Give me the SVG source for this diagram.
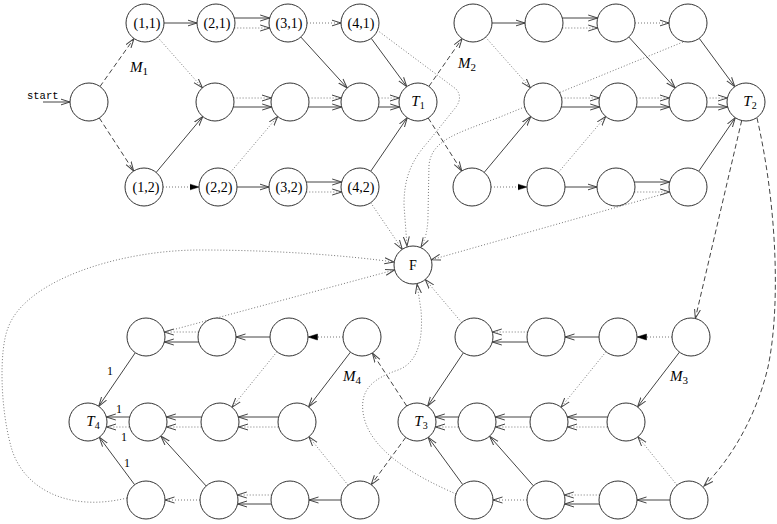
<svg xmlns="http://www.w3.org/2000/svg" width="777" height="524" viewBox="0 0 777 524">
<defs>
<marker id="a" markerWidth="11" markerHeight="8" refX="9.5" refY="4" orient="auto" markerUnits="userSpaceOnUse"><path d="M0,1 L9.5,4 L0,7" fill="none" stroke="#444" stroke-width="1"/></marker>
<marker id="f" markerWidth="11" markerHeight="8" refX="9.5" refY="4" orient="auto" markerUnits="userSpaceOnUse"><path d="M0,1 L9.5,4 L0,7 Z" fill="#000" stroke="#000" stroke-width="0.5"/></marker>
</defs>
<style>
.n circle{fill:#fff;stroke:#333;stroke-width:1}
.n text{font-family:"Liberation Serif","DejaVu Serif",serif;font-size:14px;fill:#000;text-anchor:middle}
.n text.t{font-style:italic;font-size:15px}
.lb{font-family:"Liberation Serif","DejaVu Serif",serif;font-size:12px;fill:#000}
.st{font-family:"Liberation Mono","DejaVu Sans Mono",monospace;font-size:10.5px;fill:#000}
.m{font-family:"Liberation Serif","DejaVu Serif",serif;font-size:15px;font-style:italic;fill:#000}
.s{stroke:#444;stroke-width:1;fill:none;marker-end:url(#a)}
.d{stroke:#777;stroke-width:1;stroke-dasharray:1 2;fill:none;marker-end:url(#a)}
.df{stroke:#777;stroke-width:1;stroke-dasharray:1 2;fill:none;marker-end:url(#f)}
.k{stroke:#444;stroke-width:1;stroke-dasharray:5 3;fill:none;marker-end:url(#a)}
</style>
<g id="connectors">
<!-- M1 -->
<line class="s" x1="43" y1="102" x2="70" y2="102"/>
<line class="k" x1="100" y1="86.5" x2="134" y2="38.5"/>
<line class="k" x1="99.3" y1="118" x2="133.7" y2="171"/>
<line class="s" x1="164" y1="23" x2="197" y2="23"/>
<line class="d" x1="157.6" y1="37.2" x2="202.4" y2="87.8"/>
<line class="s" x1="156.2" y1="172.4" x2="202.8" y2="116.6"/>
<line class="df" x1="163" y1="187" x2="199" y2="187"/>
<line class="s" x1="234.3" y1="18" x2="269.7" y2="18"/>
<line class="d" x1="234.3" y1="28" x2="269.7" y2="28"/>
<line class="d" x1="307" y1="23" x2="341" y2="23"/>
<line class="s" x1="300.8" y1="37" x2="347.2" y2="88"/>
<line class="s" x1="371.2" y1="38.3" x2="406.8" y2="86.7"/>
<line class="d" x1="233.6" y1="98" x2="271.4" y2="98"/>
<line class="s" x1="233.3" y1="107" x2="271.7" y2="107"/>
<line class="d" x1="308.6" y1="98" x2="341.4" y2="98"/>
<line class="s" x1="308.3" y1="107" x2="341.7" y2="107"/>
<line class="d" x1="378.6" y1="98" x2="399.4" y2="98"/>
<line class="s" x1="378.3" y1="107" x2="399.7" y2="107"/>
<line class="d" x1="230.3" y1="172.5" x2="277.7" y2="116.5"/>
<line class="s" x1="237" y1="187" x2="269" y2="187"/>
<line class="s" x1="306.3" y1="182" x2="341.7" y2="182"/>
<line class="d" x1="306.3" y1="192" x2="341.7" y2="192"/>
<line class="s" x1="370.7" y1="171.3" x2="407.3" y2="117.7"/>
<line class="d" x1="370.7" y1="202.7" x2="402.3" y2="249.3"/>
<path class="d" d="M377,30 L456,89 Q463,97 456,107 L428,142 C410,162 404,180 404,205 L407,246"/>
<line class="k" x1="428.9" y1="86.4" x2="462.1" y2="38.6"/>
<line class="k" x1="428.2" y1="118" x2="461.8" y2="171"/>
<!-- M2 -->
<line class="s" x1="492" y1="23" x2="525" y2="23"/>
<line class="d" x1="485.6" y1="37.2" x2="530.4" y2="87.8"/>
<line class="s" x1="484.2" y1="172.4" x2="530.8" y2="116.6"/>
<line class="df" x1="491" y1="187" x2="527" y2="187"/>
<line class="s" x1="562.3" y1="18" x2="597.7" y2="18"/>
<line class="d" x1="562.3" y1="28" x2="597.7" y2="28"/>
<line class="d" x1="635" y1="23" x2="669" y2="23"/>
<line class="s" x1="628.8" y1="37" x2="675.2" y2="88"/>
<line class="s" x1="699.2" y1="38.3" x2="734.8" y2="86.7"/>
<line class="d" x1="561.6" y1="98" x2="599.4" y2="98"/>
<line class="s" x1="561.3" y1="107" x2="599.7" y2="107"/>
<line class="d" x1="636.6" y1="98" x2="669.4" y2="98"/>
<line class="s" x1="636.3" y1="107" x2="669.7" y2="107"/>
<line class="d" x1="706.6" y1="98" x2="727.4" y2="98"/>
<line class="s" x1="706.3" y1="107" x2="727.7" y2="107"/>
<line class="d" x1="558.3" y1="172.5" x2="605.7" y2="116.5"/>
<line class="s" x1="565" y1="187" x2="597" y2="187"/>
<line class="s" x1="634.3" y1="182" x2="669.7" y2="182"/>
<line class="d" x1="634.3" y1="192" x2="669.7" y2="192"/>
<line class="s" x1="698.7" y1="171.3" x2="735.3" y2="117.7"/>
<line class="d" x1="669.7" y1="192.2" x2="431.3" y2="259.8"/>
<path class="d" d="M683,42 L500,117 C455,134 432,140 429,165 L428,215 Q428,235 421,247"/>
<line class="k" x1="741.7" y1="120.5" x2="695.3" y2="318.5"/>
<path class="k" d="M757,118 C778,210 780,310 768,367 C758,410 735,455 704,486"/>
<!-- M3 -->
<line class="df" x1="672" y1="337" x2="637" y2="337"/>
<line class="s" x1="679.5" y1="352.1" x2="637.5" y2="406.9"/>
<line class="s" x1="599" y1="337" x2="565" y2="337"/>
<line class="d" x1="606" y1="351.7" x2="561" y2="407.3"/>
<line class="d" x1="527.7" y1="332" x2="492.3" y2="332"/>
<line class="s" x1="527.7" y1="342" x2="492.3" y2="342"/>
<line class="s" x1="463.4" y1="352.8" x2="427.6" y2="406.2"/>
<line class="d" x1="461.7" y1="322.5" x2="425.3" y2="279.5"/>
<line class="s" x1="607.7" y1="417" x2="567.3" y2="417"/>
<line class="d" x1="607.4" y1="427" x2="567.6" y2="427"/>
<line class="s" x1="530.7" y1="417" x2="495.3" y2="417"/>
<line class="d" x1="530.4" y1="427" x2="495.6" y2="427"/>
<line class="s" x1="458.7" y1="417" x2="435.3" y2="417"/>
<line class="d" x1="458.4" y1="427" x2="435.6" y2="427"/>
<line class="d" x1="677.1" y1="485.2" x2="637.9" y2="436.8"/>
<line class="s" x1="670" y1="500" x2="637" y2="500"/>
<line class="d" x1="599.7" y1="495" x2="564.3" y2="495"/>
<line class="s" x1="599.4" y1="504" x2="564.6" y2="504"/>
<line class="d" x1="527" y1="500" x2="493" y2="500"/>
<line class="s" x1="533.4" y1="485.8" x2="489.6" y2="436.2"/>
<line class="s" x1="462.8" y1="484.7" x2="428.2" y2="437.3"/>
<path class="d" d="M456,494 C420,478 368,452 363,412 C360,388 375,378 398,370 C420,362 423,335 421,310 L417,284"/>
<line class="k" x1="406.7" y1="406" x2="372.3" y2="353"/>
<line class="k" x1="405.8" y1="437.3" x2="371.2" y2="484.7"/>
<!-- M4 -->
<line class="df" x1="343" y1="337" x2="308" y2="337"/>
<line class="s" x1="350.5" y1="352.1" x2="308.5" y2="406.9"/>
<line class="s" x1="270" y1="337" x2="236" y2="337"/>
<line class="d" x1="277" y1="351.7" x2="232" y2="407.3"/>
<line class="d" x1="198.7" y1="332" x2="164.3" y2="332"/>
<line class="s" x1="198.7" y1="342" x2="164.3" y2="342"/>
<line class="s" x1="135.3" y1="352.7" x2="98.7" y2="406.3"/>
<line class="d" x1="164.4" y1="332.1" x2="394.6" y2="269.9"/>
<line class="s" x1="278.7" y1="417" x2="238.3" y2="417"/>
<line class="d" x1="278.4" y1="427" x2="238.6" y2="427"/>
<line class="s" x1="201.7" y1="417" x2="166.3" y2="417"/>
<line class="d" x1="201.4" y1="427" x2="166.6" y2="427"/>
<line class="s" x1="129.7" y1="417" x2="106.3" y2="417"/>
<line class="d" x1="129.4" y1="427" x2="106.6" y2="427"/>
<line class="d" x1="348.1" y1="485.2" x2="308.9" y2="436.8"/>
<line class="s" x1="341" y1="500" x2="309" y2="500"/>
<line class="d" x1="271.7" y1="495" x2="237.3" y2="495"/>
<line class="s" x1="271.4" y1="504" x2="237.6" y2="504"/>
<line class="d" x1="200" y1="500" x2="165" y2="500"/>
<line class="s" x1="206.2" y1="486" x2="160.8" y2="436"/>
<line class="s" x1="134.7" y1="484.8" x2="99.3" y2="437.2"/>
<path class="d" d="M127,498 C70,512 25,490 12,450 C0,410 -1,350 8,328 C25,280 120,250 200,250 C280,250 350,256 394,262"/>
</g>
<g id="labels">
<text class="st" x="27" y="99">start</text>
<text class="m" x="130" y="72">M<tspan font-size="11" font-style="normal" dy="3">1</tspan></text>
<text class="m" x="458" y="68">M<tspan font-size="11" font-style="normal" dy="3">2</tspan></text>
<text class="m" x="670" y="381">M<tspan font-size="11" font-style="normal" dy="3">3</tspan></text>
<text class="m" x="343" y="381">M<tspan font-size="11" font-style="normal" dy="3">4</tspan></text>
<text class="lb" x="107" y="375">1</text>
<text class="lb" x="116" y="413">1</text>
<text class="lb" x="121" y="441">1</text>
<text class="lb" x="124" y="467">1</text>
</g>
<g id="S" class="n"><circle cx="89" cy="102" r="19"/></g>
<g id="n11" class="n"><circle cx="145" cy="23" r="19"/><text x="147" y="28">(1,1)</text></g>
<g id="n21" class="n"><circle cx="216" cy="23" r="19"/><text x="217" y="28">(2,1)</text></g>
<g id="n31" class="n"><circle cx="288" cy="23" r="19"/><text x="289" y="28">(3,1)</text></g>
<g id="n41" class="n"><circle cx="360" cy="23" r="19"/><text x="361" y="28">(4,1)</text></g>
<g id="m1b2" class="n"><circle cx="215" cy="102" r="19"/></g>
<g id="m1b3" class="n"><circle cx="290" cy="102" r="19"/></g>
<g id="m1b4" class="n"><circle cx="360" cy="102" r="19"/></g>
<g id="T1" class="n"><circle cx="418" cy="102" r="19"/><text class="t" x="418" y="106">T<tspan font-size="10" font-style="normal" dy="3">1</tspan></text></g>
<g id="n12" class="n"><circle cx="144" cy="187" r="19"/><text x="146" y="192">(1,2)</text></g>
<g id="n22" class="n"><circle cx="218" cy="187" r="19"/><text x="219" y="192">(2,2)</text></g>
<g id="n32" class="n"><circle cx="288" cy="187" r="19"/><text x="289" y="192">(3,2)</text></g>
<g id="n42" class="n"><circle cx="360" cy="187" r="19"/><text x="361" y="192">(4,2)</text></g>
<g id="m2a1" class="n"><circle cx="473" cy="23" r="19"/></g>
<g id="m2a2" class="n"><circle cx="544" cy="23" r="19"/></g>
<g id="m2a3" class="n"><circle cx="616" cy="23" r="19"/></g>
<g id="m2a4" class="n"><circle cx="688" cy="23" r="19"/></g>
<g id="m2b2" class="n"><circle cx="543" cy="102" r="19"/></g>
<g id="m2b3" class="n"><circle cx="618" cy="102" r="19"/></g>
<g id="m2b4" class="n"><circle cx="688" cy="102" r="19"/></g>
<g id="T2" class="n"><circle cx="746" cy="102" r="19"/><text class="t" x="750" y="106">T<tspan font-size="10" font-style="normal" dy="3">2</tspan></text></g>
<g id="m2c1" class="n"><circle cx="472" cy="187" r="19"/></g>
<g id="m2c2" class="n"><circle cx="546" cy="187" r="19"/></g>
<g id="m2c3" class="n"><circle cx="616" cy="187" r="19"/></g>
<g id="m2c4" class="n"><circle cx="688" cy="187" r="19"/></g>
<g id="F" class="n"><circle cx="413" cy="265" r="19"/><text x="413" y="270">F</text></g>
<g id="m3a1" class="n"><circle cx="474" cy="337" r="19"/></g>
<g id="m3a2" class="n"><circle cx="546" cy="337" r="19"/></g>
<g id="m3a3" class="n"><circle cx="618" cy="337" r="19"/></g>
<g id="m3a4" class="n"><circle cx="691" cy="337" r="19"/></g>
<g id="T3" class="n"><circle cx="417" cy="422" r="19"/><text class="t" x="421" y="426">T<tspan font-size="10" font-style="normal" dy="3">3</tspan></text></g>
<g id="m3b2" class="n"><circle cx="477" cy="422" r="19"/></g>
<g id="m3b3" class="n"><circle cx="549" cy="422" r="19"/></g>
<g id="m3b4" class="n"><circle cx="626" cy="422" r="19"/></g>
<g id="m3c1" class="n"><circle cx="474" cy="500" r="19"/></g>
<g id="m3c2" class="n"><circle cx="546" cy="500" r="19"/></g>
<g id="m3c3" class="n"><circle cx="618" cy="500" r="19"/></g>
<g id="m3c4" class="n"><circle cx="689" cy="500" r="19"/></g>
<g id="m4a1" class="n"><circle cx="146" cy="337" r="19"/></g>
<g id="m4a2" class="n"><circle cx="217" cy="337" r="19"/></g>
<g id="m4a3" class="n"><circle cx="289" cy="337" r="19"/></g>
<g id="m4a4" class="n"><circle cx="362" cy="337" r="19"/></g>
<g id="T4" class="n"><circle cx="88" cy="422" r="19"/><text class="t" x="93" y="426">T<tspan font-size="10" font-style="normal" dy="3">4</tspan></text></g>
<g id="m4b2" class="n"><circle cx="148" cy="422" r="19"/></g>
<g id="m4b3" class="n"><circle cx="220" cy="422" r="19"/></g>
<g id="m4b4" class="n"><circle cx="297" cy="422" r="19"/></g>
<g id="m4c1" class="n"><circle cx="146" cy="500" r="19"/></g>
<g id="m4c2" class="n"><circle cx="219" cy="500" r="19"/></g>
<g id="m4c3" class="n"><circle cx="290" cy="500" r="19"/></g>
<g id="m4c4" class="n"><circle cx="360" cy="500" r="19"/></g>
</svg>
